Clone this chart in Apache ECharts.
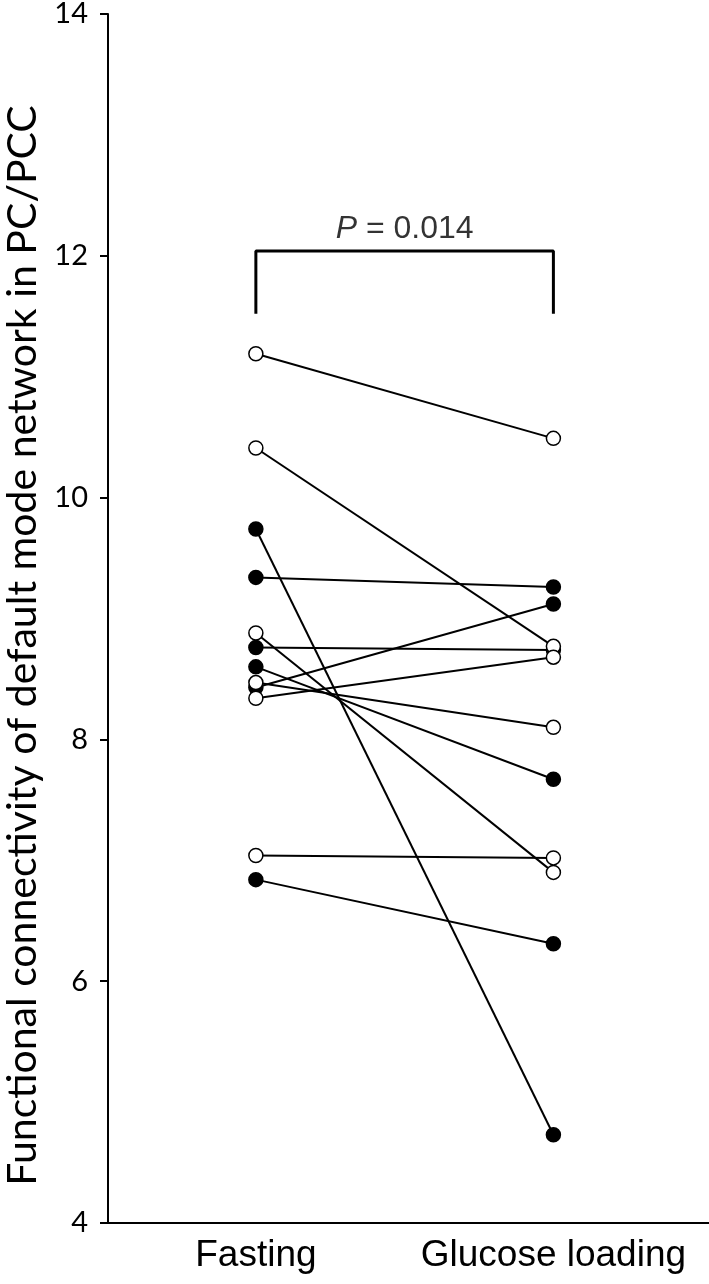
<!DOCTYPE html>
<html>
<head>
<meta charset="utf-8">
<script src="https://cdn.jsdelivr.net/npm/echarts@6/dist/echarts.min.js"></script>
<style>
  html, body { margin: 0; padding: 0; background: #fff; }
  #main { width: 709px; height: 1284px; }
</style>
</head>
<body>
<div id="main"></div>
<script>
// conditions on the x axis
const conditions = ["Fasting", "Glucose loading"];
// paired subjects: value at fasting, value after glucose loading
const fasting = [11.19, 10.41, 8.88, 8.47, 8.34, 7.04, 9.74, 9.34, 8.76, 8.60, 8.43, 6.84];
const glucose = [10.49, 8.77, 6.90, 8.10, 8.68, 7.02, 4.73, 9.26, 8.74, 7.67, 9.12, 6.31];
// marker type for each subject
const filled = [false, false, false, false, false, false, true, true, true, true, true, true];
// y axis ticks
const yTicks = [4, 6, 8, 10, 12, 14];
// significance bracket
const bracketLow = 11.52;
const bracketTop = 12.04;
const pText = "0.014";

let myChart = echarts.init(document.getElementById("main"));

let series = fasting.map((v, i) => ({
  type: "line",
  data: [[0, v], [1, glucose[i]]],
  symbol: "circle",
  symbolSize: 14,
  lineStyle: { color: "#000", width: 2 },
  itemStyle: {
    color: filled[i] ? "#000" : "#fff",
    borderColor: "#000",
    borderWidth: 1.5
  },
  z: filled[i] ? 3 : 4,
  silent: true
}));

// bracket
series.push({
  type: "line",
  data: [[0, bracketLow], [0, bracketTop], [1, bracketTop], [1, bracketLow]],
  symbol: "none",
  lineStyle: { color: "#000", width: 3 },
  silent: true
});

// p value text
series.push({
  type: "scatter",
  data: [[0.5, bracketTop]],
  symbolSize: 0,
  label: {
    show: true,
    position: "top",
    distance: 6,
    formatter: "{i|P}{n| = " + pText + "}",
    rich: {
      i: { fontStyle: "italic", fontFamily: "Liberation Sans", fontSize: 32, color: "#000" },
      n: { fontFamily: "Liberation Sans", fontSize: 32, color: "#000" }
    }
  },
  silent: true
});

myChart.setOption({
  animation: false,
  grid: { left: 108, right: 0, top: 14, bottom: 61, outerBoundsMode: "none" },
  xAxis: {
    type: "value",
    min: -0.497,
    max: 1.523,
    splitLine: { show: false },
    axisLine: { onZero: false, lineStyle: { color: "#000", width: 2 } },
    axisTick: { show: false },
    axisLabel: {
      customValues: [0, 1],
      formatter: v => conditions[Math.round(v)],
      fontFamily: "Liberation Sans",
      fontSize: 37,
      color: "#000",
      margin: 14
    }
  },
  yAxis: {
    type: "value",
    min: yTicks[0],
    max: yTicks[yTicks.length - 1],
    interval: 2,
    splitLine: { show: false },
    axisLine: { show: true, onZero: false, lineStyle: { color: "#000", width: 2 } },
    axisTick: { show: true, length: 8, lineStyle: { color: "#000", width: 2 } },
    axisLabel: {
      fontFamily: "Lato",
      fontSize: 29,
      color: "#000",
      margin: 20
    },
    name: "Functional connectivity of default mode network in PC/PCC",
    nameLocation: "middle",
    nameGap: 64,
    nameTextStyle: {
      fontFamily: "Lato",
      fontSize: 41,
      color: "#000",
      padding: [0, 54, 0, 0]
    }
  },
  series: series
});
</script>
</body>
</html>
